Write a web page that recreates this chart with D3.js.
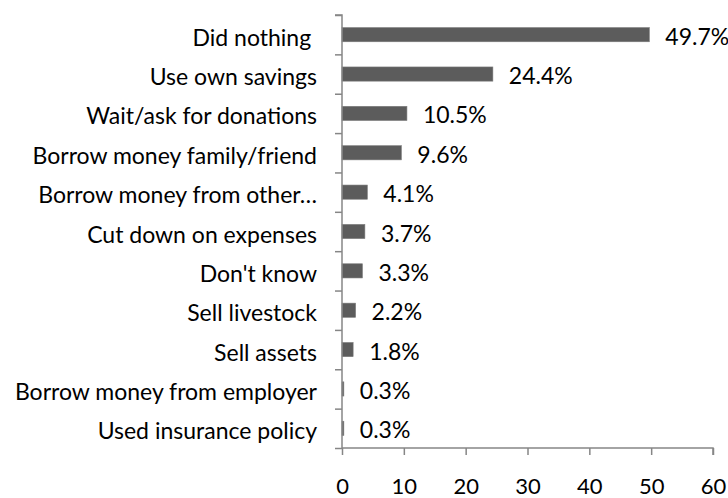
<!DOCTYPE html>
<html>
<head>
<meta charset="utf-8">
<script src="https://cdn.jsdelivr.net/npm/d3@7"></script>
<style>
  html, body { margin: 0; padding: 0; background: #fff; }
  svg text { font-family: Lato, "Open Sans", sans-serif; fill: #000; white-space: pre; }
</style>
</head>
<body>
<svg id="chart" width="728" height="498"></svg>
<script>
// Responses, in display order (top to bottom)
const categories = [
  "Did nothing ",
  "Use own savings",
  "Wait/ask for donations",
  "Borrow money family/friend",
  "Borrow money from other\u2026",
  "Cut down on expenses",
  "Don't know",
  "Sell livestock",
  "Sell assets",
  "Borrow money from employer",
  "Used insurance policy"
];
const values = [49.7, 24.4, 10.5, 9.6, 4.1, 3.7, 3.3, 2.2, 1.8, 0.3, 0.3];
const xTicks = [0, 10, 20, 30, 40, 50, 60];

const svg = d3.select("#chart");
const plotLeft = 342, plotRight = 713, plotTop = 15, plotBottom = 448;
const fontSize = 23;

const x = d3.scaleLinear().domain([0, 60]).range([plotLeft, plotRight]);
const y = d3.scaleBand().domain(categories).range([plotTop, plotBottom])
  .paddingInner(0.64).paddingOuter(0.32);

// bars
svg.append("g").selectAll("rect")
  .data(values)
  .join("rect")
  .attr("x", x(0))
  .attr("y", (d, i) => y(categories[i]))
  .attr("width", d => x(d) - x(0))
  .attr("height", y.bandwidth())
  .attr("fill", "#5c5c5c")
  .attr("stroke", "#7a7a7a")
  .attr("stroke-width", 0.6);

// value labels
svg.append("g").selectAll("text")
  .data(values)
  .join("text")
  .attr("x", d => x(d) + 16)
  .attr("y", (d, i) => y(categories[i]) + y.bandwidth() / 2 + 10)
  .attr("font-size", fontSize)
  .text(d => d.toFixed(1) + "%");

// category axis: boundary ticks between rows
const rowEdges = d3.scalePoint().domain(d3.range(categories.length + 1)).range([plotTop, plotBottom]);
const ga = svg.append("g").attr("transform", `translate(${plotLeft},0)`)
  .call(d3.axisLeft(rowEdges).tickSize(7).tickFormat(""));
ga.select(".domain").attr("stroke", "#868686").attr("stroke-width", 1.5)
  .attr("d", `M-7,${plotTop}H0V${plotBottom}`);
ga.selectAll(".tick line").attr("stroke", "#868686").attr("stroke-width", 1.5);

// category labels
svg.append("g").selectAll("text")
  .data(categories)
  .join("text")
  .attr("x", 317)
  .attr("y", d => y(d) + y.bandwidth() / 2 + 11)
  .attr("text-anchor", "end")
  .attr("font-size", fontSize)
  .text(d => d);

// value axis
const gx = svg.append("g").attr("transform", `translate(0,${plotBottom})`)
  .call(d3.axisBottom(x).tickValues(xTicks).tickSize(7));
gx.select(".domain").attr("stroke", "#868686").attr("stroke-width", 1.5)
  .attr("d", `M${x(0)},0H${x(60)}V7`);
gx.selectAll(".tick line").attr("stroke", "#868686").attr("stroke-width", 1.5);
gx.selectAll(".tick text")
  .attr("y", 46).attr("dy", null)
  .attr("font-size", 22).attr("fill", "#000")
  .style("font-family", 'Lato, "Open Sans", sans-serif');
</script>
</body>
</html>
